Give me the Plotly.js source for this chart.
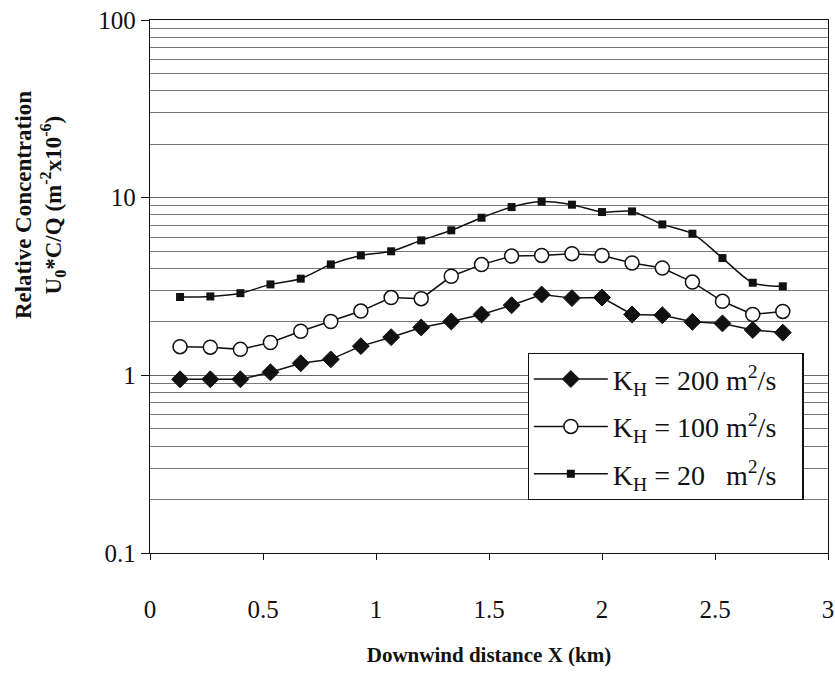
<!DOCTYPE html>
<html>
<head>
<meta charset="utf-8">
<script src="https://cdn.plot.ly/plotly-3.0.1.min.js"></script>
<style>html,body{margin:0;padding:0;background:#fff;}#chart{width:835px;height:684px;}</style>
</head>
<body>
<div id="chart"></div>
<script>
// Downwind distance X (km)
const distanceKm = [0.133, 0.267, 0.4, 0.533, 0.667, 0.8, 0.933, 1.067, 1.2, 1.333, 1.467,
                    1.6, 1.733, 1.867, 2.0, 2.133, 2.267, 2.4, 2.533, 2.667, 2.8];
// Relative concentration U0*C/Q (m^-2 x10^-6)
const kh200 = [0.95, 0.95, 0.95, 1.04, 1.17, 1.23, 1.46, 1.64, 1.86, 2.01, 2.2,
               2.48, 2.85, 2.72, 2.74, 2.2, 2.18, 2.0, 1.96, 1.8, 1.74];
const kh100 = [1.45, 1.44, 1.40, 1.53, 1.77, 2.01, 2.30, 2.74, 2.70, 3.61, 4.20,
               4.69, 4.73, 4.84, 4.73, 4.29, 4.02, 3.35, 2.61, 2.20, 2.29];
const kh20  = [2.76, 2.78, 2.90, 3.25, 3.50, 4.21, 4.73, 4.99, 5.75, 6.55, 7.71,
               8.85, 9.50, 9.13, 8.30, 8.37, 7.07, 6.27, 4.57, 3.32, 3.17];
const seriesNames = [
  "K<sub>H</sub> = 200 m<sup>2</sup>/s\u00A0\u00A0\u00A0",
  "K<sub>H</sub> = 100 m<sup>2</sup>/s\u00A0\u00A0\u00A0",
  "K<sub>H</sub> = 20\u00A0\u00A0 m<sup>2</sup>/s\u00A0\u00A0\u00A0"
];
const yTickVals = [0.1, 1, 10, 100];
const yTickText = ["0.1", "1", "10", "100"];
const yTitle = "<b>Relative Concentration<br>U<sub>0</sub>*C/Q (m<sup>-2</sup>x10<sup>-6</sup>)</b>";
const xTitle = "<b>Downwind distance X (km)</b>";

const minorVals = [];
[0.1, 1, 10].forEach(d => { for (let m = 2; m <= 9; m++) minorVals.push(d * m); });

const serif = "Liberation Serif, Times New Roman, serif";

const traces = [
  {x: distanceKm, y: kh200, name: seriesNames[0], mode: "lines+markers", legendgroup: "a",
   line: {color: "#111", width: 1.5},
   marker: {symbol: "diamond", size: 13, color: "#111", line: {color: "#111", width: 1}}},
  {x: distanceKm, y: kh100, name: seriesNames[1], mode: "lines+markers", legendgroup: "b",
   line: {color: "#111", width: 1.5},
   marker: {symbol: "circle", size: 14, color: "#fff", line: {color: "#111", width: 1.5}}},
  {x: distanceKm, y: kh20, name: seriesNames[2], mode: "lines+markers", legendgroup: "c",
   line: {color: "#111", width: 1.5, shape: "spline", smoothing: 0.8},
   marker: {symbol: "square", size: 8, color: "#111"}}
];

const layout = {
  width: 835, height: 684,
  margin: {l: 150, r: 7, t: 20, b: 131},
  paper_bgcolor: "#fff", plot_bgcolor: "#fff",
  font: {family: serif, color: "#111", size: 25},
  showlegend: true,
  legend: {
    x: 0.557, y: 0.375, xanchor: "left", yanchor: "top",
    bgcolor: "#fff", bordercolor: "#111", borderwidth: 1.2,
    font: {family: serif, size: 28, color: "#111"},
    tracegroupgap: 8, itemwidth: 74
  },
  xaxis: {
    range: [0, 3], dtick: 0.5, tick0: 0,
    showgrid: false, zeroline: false,
    showline: true, linecolor: "#111", linewidth: 1.2, mirror: true,
    ticks: "outside", ticklen: 6, tickcolor: "#111",
    ticklabelstandoff: 28,
    tickfont: {family: serif, size: 25, color: "#111"},
    title: {text: xTitle, font: {family: serif, size: 21, color: "#111"}, standoff: 25},
    automargin: false
  },
  yaxis: {
    type: "log", range: [-1, 2],
    tickmode: "array", tickvals: yTickVals, ticktext: yTickText,
    showgrid: true, gridcolor: "#666", gridwidth: 1,
    zeroline: false,
    showline: true, linecolor: "#111", linewidth: 1.2, mirror: true,
    ticks: "outside", ticklen: 8, tickcolor: "#111",
    tickfont: {family: serif, size: 25, color: "#111"},
    minor: {tickmode: "array", tickvals: minorVals, showgrid: true, gridcolor: "#777", gridwidth: 1, ticks: ""},
    automargin: false
  },
  annotations: [{
    text: yTitle, xref: "paper", yref: "paper",
    x: -0.162, y: 0.653, xanchor: "center", yanchor: "middle",
    textangle: -90, showarrow: false,
    font: {family: serif, size: 23, color: "#111"}
  }]
};

Plotly.newPlot("chart", traces, layout, {displayModeBar: false, staticPlot: true});
</script>
</body>
</html>
